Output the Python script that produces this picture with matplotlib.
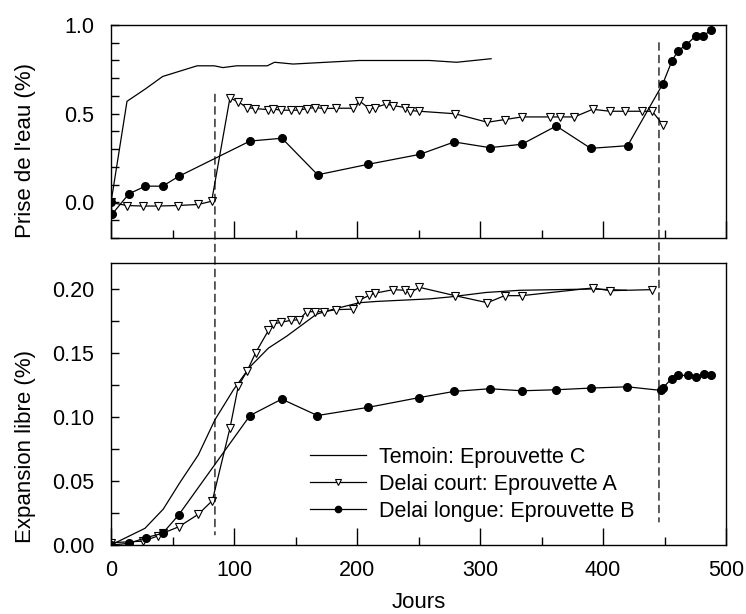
import matplotlib
matplotlib.use('Agg')
import matplotlib.pyplot as plt
from matplotlib.patches import ConnectionPatch
from matplotlib.ticker import MultipleLocator

plt.rcParams['font.family'] = ['Liberation Sans', 'DejaVu Sans']

# Prise de l'eau (%) - panneau du haut
temoin_j_haut = [0, 13, 28, 42, 56, 70, 84, 91, 102, 112, 127, 133, 148, 175, 202, 230, 259, 281, 309]
temoin_eau = [0.0, 0.57, 0.64, 0.71, 0.74, 0.77, 0.77, 0.76, 0.77, 0.77, 0.77, 0.79, 0.78, 0.79, 0.80,
              0.80, 0.80, 0.79, 0.81]

court_j_haut = [0, 12.7, 26.3, 38, 54.7, 71, 81.8, 96.7, 103.5, 110.3, 117, 128, 132, 138, 146, 153, 159,
                166, 173, 183, 197, 202, 210, 214.6, 223.6, 229.5, 239, 243, 250.7, 279.7, 306, 320, 334,
                357, 365, 376.7, 391.6, 405.7, 418, 432, 440, 449]
court_eau = [0.0, -0.017, -0.02, -0.02, -0.017, -0.011, 0.007, 0.589, 0.567, 0.535, 0.529, 0.523, 0.527,
             0.52, 0.52, 0.52, 0.529, 0.535, 0.529, 0.531, 0.531, 0.572, 0.529, 0.535, 0.554, 0.546, 0.535,
             0.518, 0.514, 0.50, 0.452, 0.467, 0.482, 0.482, 0.482, 0.482, 0.525, 0.514, 0.514, 0.514,
             0.514, 0.435]

longue_j_haut = [0, 1, 14.6, 28, 42, 55, 113, 139, 168, 209, 251, 279, 308, 334, 362, 390, 420, 448.5,
                 456, 461, 467.5, 475.6, 481.6, 487.8]
longue_eau = [0.0, -0.065, 0.049, 0.092, 0.092, 0.147, 0.346, 0.362, 0.156, 0.215, 0.271, 0.341, 0.309,
              0.328, 0.431, 0.305, 0.32, 0.667, 0.797, 0.855, 0.887, 0.94, 0.94, 0.97]

# Expansion libre (%) - panneau du bas
temoin_j_bas = [0, 27.6, 42.5, 56, 71, 84.5, 99.5, 113, 128, 143, 167, 181, 202, 216, 259, 275.6, 305,
                332.5, 392, 419]
temoin_exp = [0.0, 0.013, 0.028, 0.0487, 0.0703, 0.0977, 0.121, 0.139, 0.1536, 0.163, 0.18, 0.184,
              0.189, 0.19, 0.192, 0.1935, 0.197, 0.1987, 0.1997, 0.1987]

court_j_bas = [0, 26.3, 38, 42, 55.3, 71, 82.4, 96.7, 103.5, 110.8, 117.6, 128, 132, 138, 146, 153, 159,
               166, 173, 183, 197, 202, 210, 214.6, 229.5, 239, 243, 250.7, 279.7, 306, 320, 334, 391.6,
               405.7, 440]
court_exp = [0.0018, 0.003, 0.007, 0.0091, 0.0143, 0.024, 0.0346, 0.0911, 0.124, 0.136, 0.150, 0.1674,
             0.1724, 0.1737, 0.1752, 0.1758, 0.182, 0.182, 0.182, 0.1836, 0.184, 0.191, 0.1948, 0.1964,
             0.1992, 0.1987, 0.1966, 0.201, 0.1945, 0.189, 0.1945, 0.1945, 0.2005, 0.1984, 0.1992]

longue_j_bas = [0, 14.9, 28.2, 42, 55, 113, 138.8, 167.8, 208.7, 250.7, 278.9, 308, 334, 361.8, 390,
                419.8, 447, 448.5, 455.8, 460.7, 469.4, 475.6, 482, 487.8]
longue_exp = [0.0, 0.0013, 0.0057, 0.0091, 0.0234, 0.101, 0.1138, 0.101, 0.1073, 0.115, 0.1198, 0.1219,
              0.1203, 0.1211, 0.1224, 0.1234, 0.1206, 0.1224, 0.1297, 0.1323, 0.1323, 0.1313, 0.1333,
              0.1326]

# jours des changements de conditions (lignes pointillées)
jour_court = 84.5
jour_longue = 445.5

fig = plt.figure(figsize=(7.46, 6.14), dpi=100)
ax1 = fig.add_axes([0.1488, 0.6124, 0.8244, 0.3469])
ax2 = fig.add_axes([0.1488, 0.1124, 0.8244, 0.4593])

style_c = dict(color='black', linewidth=0.9)
style_a = dict(color='black', linewidth=0.9, marker='v', markersize=5.8,
               markerfacecolor='white', markeredgecolor='black', markeredgewidth=0.8)
style_b = dict(color='black', linewidth=0.9, marker='o', markersize=5.5, markerfacecolor='black')

ax1.plot(temoin_j_haut, temoin_eau, **style_c)
ax1.plot(court_j_haut, court_eau, **style_a)
ax1.plot(longue_j_haut, longue_eau, **style_b)

ax2.plot(temoin_j_bas, temoin_exp, label='Temoin: Eprouvette C', **style_c)
ax2.plot(court_j_bas, court_exp, label='Delai court: Eprouvette A', **style_a)
ax2.plot(longue_j_bas, longue_exp, label='Delai longue: Eprouvette B', **style_b)

ax1.set_xlim(0, 500)
ax1.set_ylim(-0.2, 1.0)
ax2.set_xlim(0, 500)
ax2.set_ylim(0, 0.22)

for ax in (ax1, ax2):
    ax.xaxis.set_major_locator(MultipleLocator(100))
    ax.xaxis.set_minor_locator(MultipleLocator(50))
    ax.tick_params(axis='x', which='major', direction='in', length=12, width=1, labelsize=15.5, pad=11)
    ax.tick_params(axis='x', which='minor', direction='in', length=6, width=1)
    ax.tick_params(axis='y', which='both', direction='in', length=6, width=1, labelsize=15.5, pad=12)
    for s in ax.spines.values():
        s.set_linewidth(1)

ax1.yaxis.set_minor_locator(MultipleLocator(0.1))
ax1.set_yticks([0.0, 0.5, 1.0])
ax1.set_yticklabels(['0.0', '0.5', '1.0'])
ax1.tick_params(axis='x', labelbottom=False)

ax2.yaxis.set_minor_locator(MultipleLocator(0.025))
ax2.set_yticks([0.0, 0.05, 0.10, 0.15, 0.20])
ax2.set_yticklabels(['0.00', '0.05', '0.10', '0.15', '0.20'])

ax1.set_ylabel("Prise de l'eau (%)", fontsize=16)
ax2.set_ylabel('Expansion libre (%)', fontsize=16)
ax2.set_xlabel('Jours', fontsize=16, labelpad=8)
ax1.yaxis.set_label_coords(-0.122, 0.41)
ax2.yaxis.set_label_coords(-0.122, 0.35)

# lignes pointillées qui traversent les deux panneaux
for jour, y_haut, y_bas in [(jour_court, 0.61, 0.008), (jour_longue, 0.90, 0.018)]:
    con = ConnectionPatch(xyA=(jour, y_haut), coordsA=ax1.transData,
                          xyB=(jour, y_bas), coordsB=ax2.transData,
                          linestyle=(0, (6, 4)), color='black', linewidth=0.9)
    fig.add_artist(con)

leg = ax2.legend(loc='upper left', bbox_to_anchor=(0.3236, 0.349), frameon=False, fontsize=15.5,
                 handlelength=2.6, handletextpad=0.6, labelspacing=0.28, borderpad=0, borderaxespad=0)
for h in leg.legend_handles:
    h.set_markersize(4.5)

fig.savefig('out.png', dpi=100)
